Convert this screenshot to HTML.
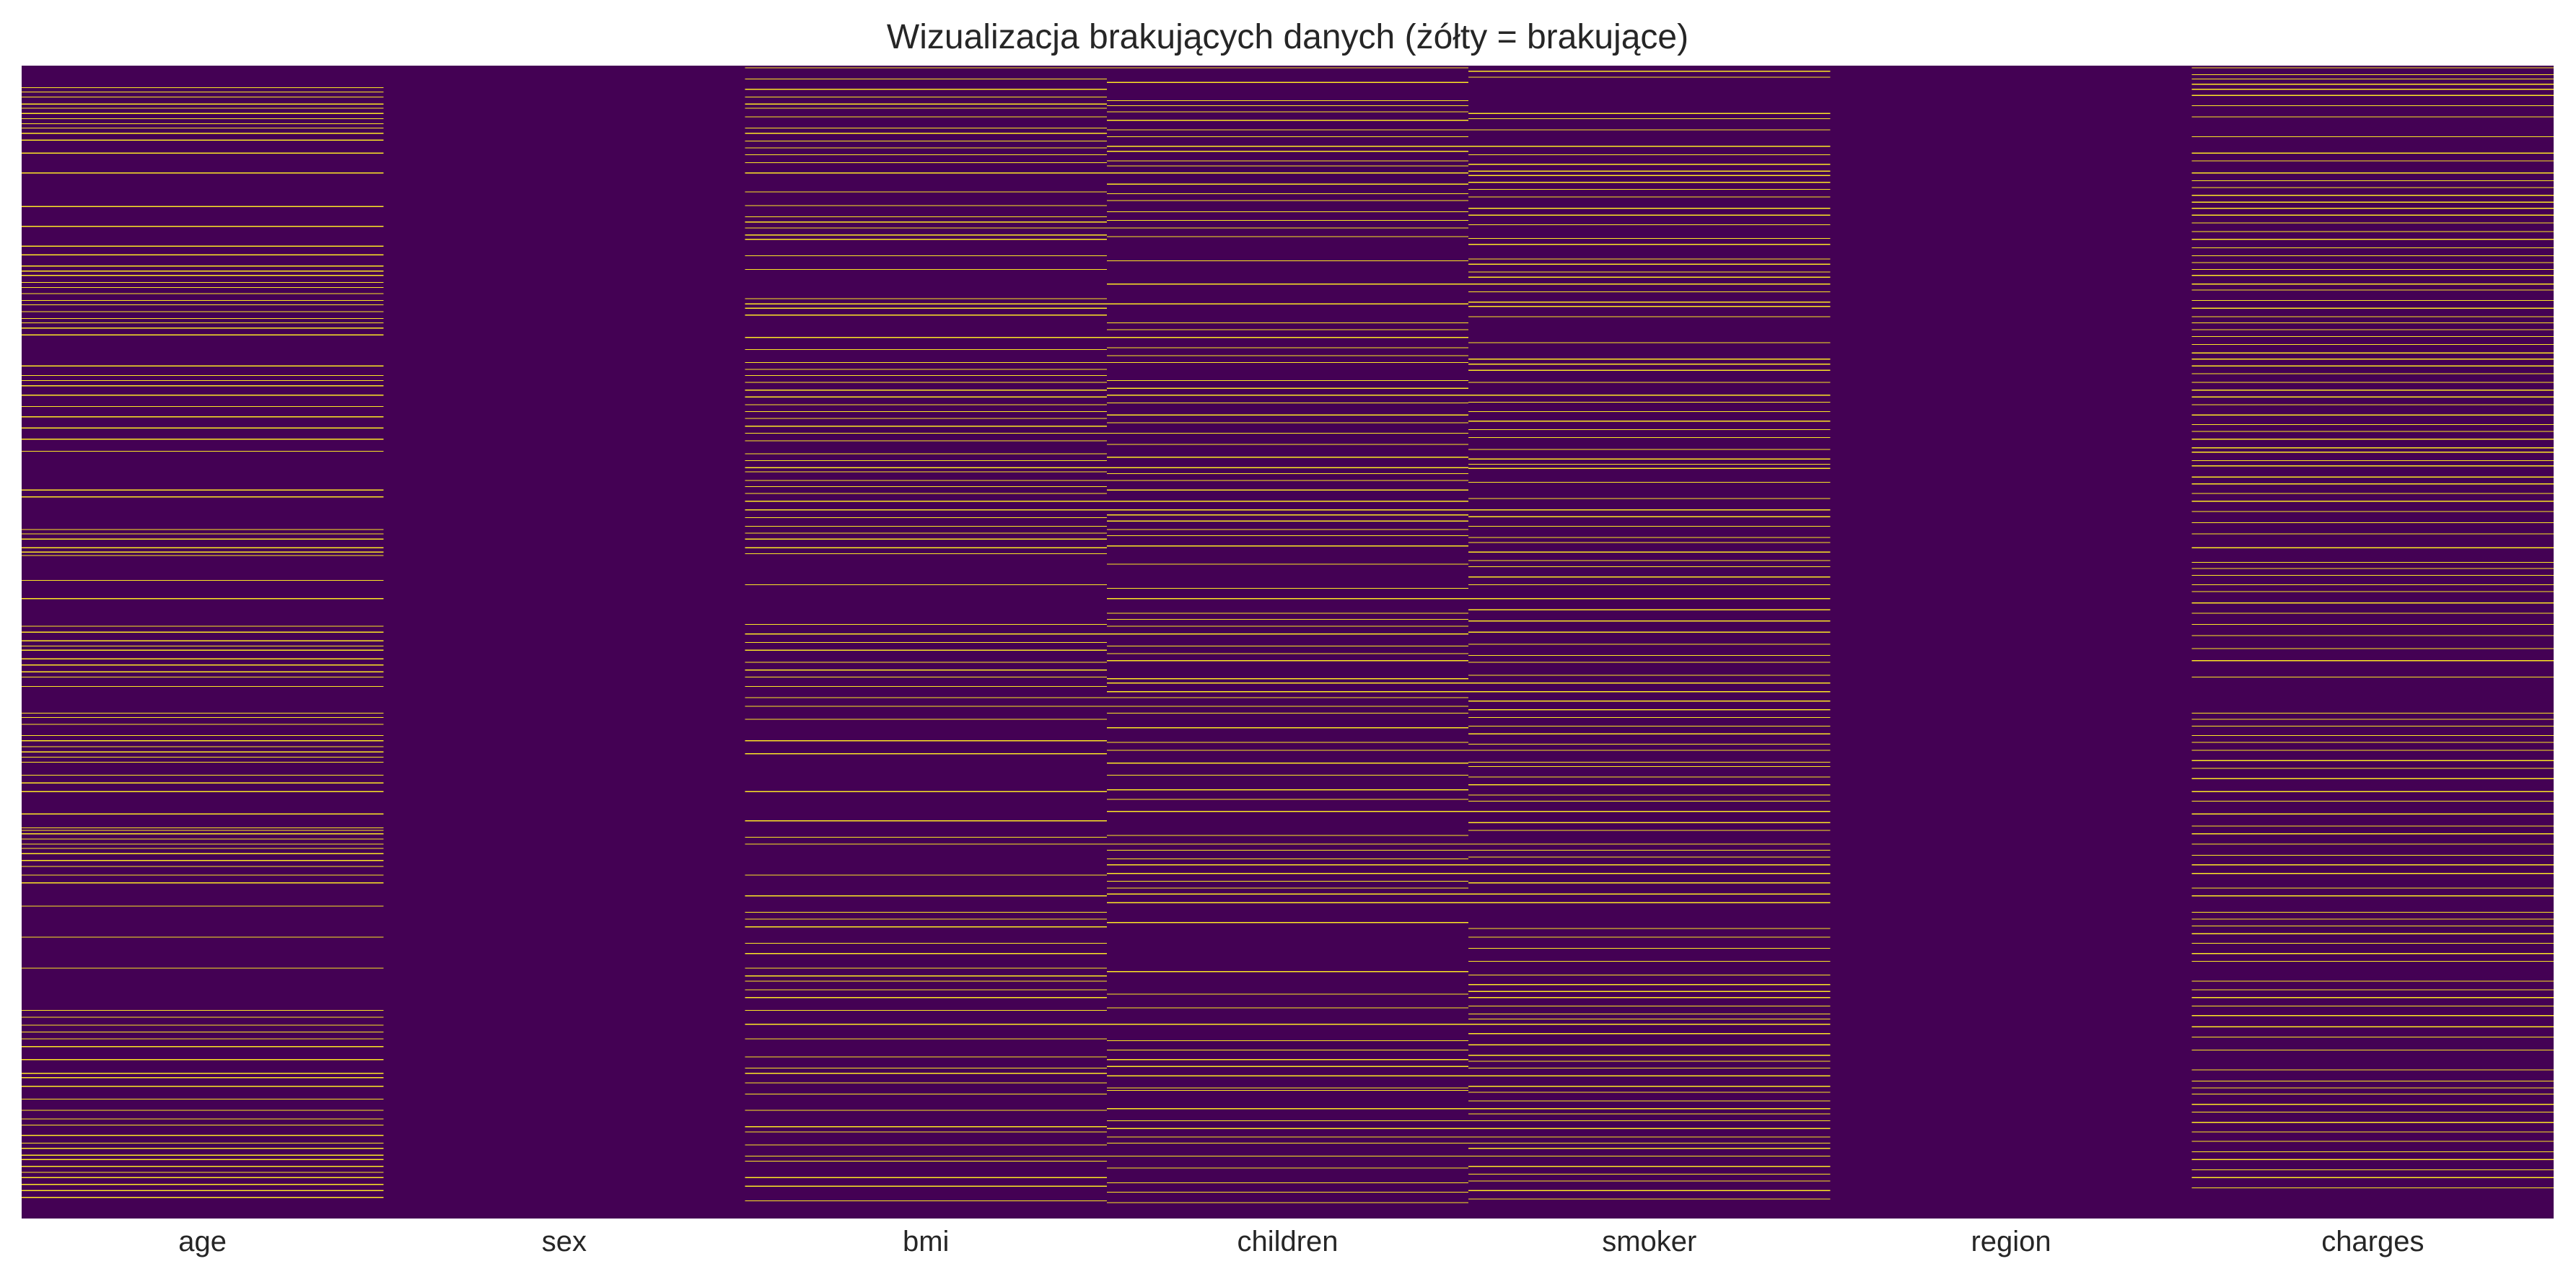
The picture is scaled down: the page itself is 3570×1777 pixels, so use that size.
<!DOCTYPE html>
<html><head><meta charset="utf-8"><style>
html,body{margin:0;padding:0;background:#fff;}
body{width:3570px;height:1772px;overflow:hidden;}
svg text{font-family:"Liberation Sans",Arial,sans-serif;fill:#262626;}
</style></head><body>
<svg id="chart" width="3570" height="1772" viewBox="0 0 3570 1772" xmlns="http://www.w3.org/2000/svg">
<text x="1784.5" y="67" font-size="48" text-anchor="middle">Wizualizacja brakujących danych (żółty = brakujące)</text>
<g id="plot" shape-rendering="crispEdges"></g>
<g id="xlabels"></g>
</svg>
<script>
const categories = ["age","sex","bmi","children","smoker","region","charges"];
const totalRows = 1338;
const missingAge = [25,30,36,44,49,55,61,67,72,78,86,101,124,163,186,209,219,232,238,243,251,257,264,272,277,285,293,298,304,312,348,359,365,371,382,395,407,420,433,447,492,500,538,543,549,559,564,568,597,618,650,657,667,673,678,688,695,703,709,720,751,756,764,777,783,790,796,802,808,823,832,842,868,884,887,891,897,903,908,914,922,929,939,948,975,1011,1047,1096,1104,1113,1121,1129,1138,1153,1169,1174,1184,1199,1212,1222,1229,1241,1250,1256,1264,1269,1277,1284,1290,1298,1305,1313];
const missingSex = [];
const missingBmi = [2,15,27,36,44,49,59,72,78,87,95,103,112,124,146,162,175,181,188,196,201,220,236,270,276,281,289,315,329,344,352,359,367,376,384,393,401,409,418,426,435,450,458,466,471,481,488,496,505,515,524,534,542,549,559,566,602,648,659,669,678,692,701,709,720,733,743,758,783,798,842,876,895,903,939,963,982,990,999,1018,1030,1047,1056,1062,1072,1081,1096,1112,1129,1150,1163,1169,1180,1193,1212,1231,1237,1252,1265,1271,1290,1300,1317];
const missingChildren = [2,19,40,46,53,63,74,82,93,99,110,116,124,137,148,156,169,179,188,198,226,253,276,298,306,315,327,336,344,365,374,382,391,405,414,426,439,454,466,473,481,492,505,515,521,528,538,545,557,578,606,618,635,642,650,659,673,682,690,711,716,726,733,743,751,768,785,794,809,823,840,851,865,893,903,910,920,927,937,946,954,961,971,994,1051,1077,1093,1112,1131,1142,1153,1161,1172,1186,1189,1210,1224,1233,1243,1250,1265,1279,1296,1307,1319];
const missingSmoker = [6,13,55,61,74,93,103,114,122,127,135,143,152,165,173,184,200,207,224,230,239,245,253,262,274,279,291,321,340,346,353,367,382,390,401,412,422,431,445,456,462,467,483,502,515,523,534,547,553,564,574,581,593,602,618,631,644,657,671,684,692,707,716,726,737,747,756,766,775,787,794,808,813,825,834,846,853,865,878,887,903,910,918,927,937,948,961,971,1001,1011,1024,1039,1055,1066,1074,1081,1091,1100,1106,1112,1123,1136,1148,1155,1163,1172,1184,1191,1201,1210,1216,1224,1233,1243,1250,1256,1265,1277,1286,1294,1305,1315];
const missingRegion = [];
const missingCharges = [2,10,15,21,27,34,46,59,82,101,110,124,133,141,150,158,165,173,182,192,201,211,220,228,236,243,253,260,272,281,291,298,306,314,323,333,340,348,357,367,376,384,393,405,416,424,433,443,448,458,464,477,485,496,505,517,530,543,559,576,583,591,602,610,623,635,648,661,676,690,709,751,758,766,777,785,794,806,815,827,842,853,868,882,891,903,916,927,937,954,963,982,990,998,1007,1018,1030,1039,1062,1072,1081,1091,1102,1115,1127,1142,1165,1178,1186,1193,1205,1214,1226,1237,1248,1260,1269,1281,1290,1302];
const missingByColumn = [missingAge,missingSex,missingBmi,missingChildren,missingSmoker,missingRegion,missingCharges];

const NS = "http://www.w3.org/2000/svg";
const X0 = 30, X1 = 3539, Y0 = 91, Y1 = 1689;
const colW = (X1 - X0) / categories.length;
const rowH = (Y1 - Y0) / totalRows;
const xScale = i => X0 + i * colW;
const yScale = r => Y0 + r * rowH;
const plot = document.getElementById('plot');
const xl = document.getElementById('xlabels');

const bg = document.createElementNS(NS, 'rect');


bg.setAttribute('x', X0); bg.setAttribute('y', Y0);
bg.setAttribute('width', X1 - X0); bg.setAttribute('height', Y1 - Y0);
bg.setAttribute('fill', '#440154');
plot.appendChild(bg);

categories.forEach((cat, ci) => {
  missingByColumn[ci].forEach(r => {
    const c = document.createElementNS(NS, 'rect');
    
    
    c.setAttribute('x', xScale(ci));
    c.setAttribute('y', yScale(r));
    c.setAttribute('width', colW);
    c.setAttribute('height', Math.max(rowH, 1.2));
    c.setAttribute('fill', '#fde725');
    plot.appendChild(c);
  });
  const t = document.createElementNS(NS, 'text');
  
  
  t.setAttribute('x', xScale(ci) + colW / 2);
  t.setAttribute('y', 1734);
  t.setAttribute('font-size', '40');
  t.setAttribute('text-anchor', 'middle');
  t.textContent = cat;
  xl.appendChild(t);
});
</script>
</body></html>
